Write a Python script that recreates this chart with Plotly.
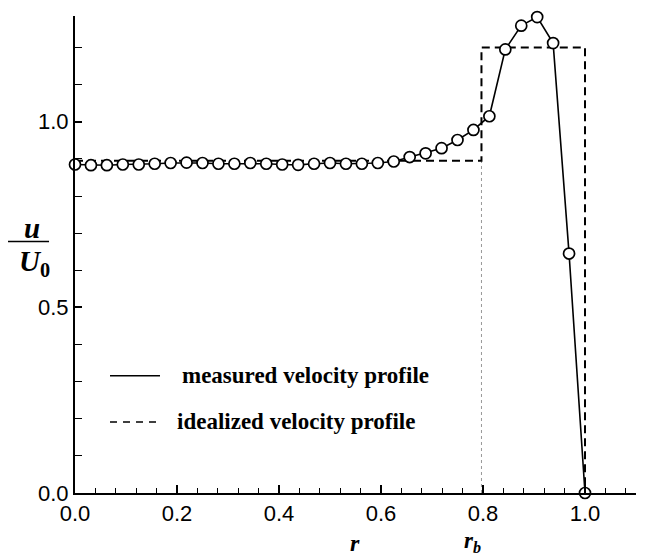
import plotly.graph_objects as go

# measured velocity profile u/U0 vs r (r = i/32)
r_meas = [i / 32 for i in range(33)]
u_meas = [0.885, 0.883, 0.883, 0.885, 0.885, 0.887, 0.889, 0.890, 0.889, 0.887,
          0.887, 0.889, 0.887, 0.885, 0.884, 0.887, 0.889, 0.887, 0.887, 0.889,
          0.893, 0.905, 0.915, 0.929, 0.951, 0.978, 1.015, 1.195, 1.259, 1.282,
          1.212, 0.645, 0.0]

# idealized (step) profile
r_b = 0.797
r_ideal = [0.0, r_b, r_b, 1.0, 1.0]
u_ideal = [0.895, 0.895, 1.2, 1.2, 0.0]

# r_b marker line
r_dot = [r_b, r_b]
u_dot = [0.0, 0.895]

x_ticks = [0.0, 0.2, 0.4, 0.6, 0.8, 1.0]
y_ticks = [0.0, 0.5, 1.0]

fig = go.Figure()
fig.add_trace(go.Scatter(x=r_dot, y=u_dot, mode="lines",
                         line=dict(color="#999999", width=1, dash="dot"),
                         showlegend=False, hoverinfo="skip"))
fig.add_trace(go.Scatter(x=r_ideal, y=u_ideal, mode="lines",
                         line=dict(color="black", width=2, dash="8px,5px"),
                         showlegend=False, cliponaxis=False))
fig.add_trace(go.Scatter(x=r_meas, y=u_meas, mode="lines+markers",
                         line=dict(color="black", width=1.6),
                         marker=dict(symbol="circle", size=11, color="white",
                                     line=dict(color="black", width=1.7)),
                         showlegend=False, cliponaxis=False))

tickfont = dict(family="Liberation Sans, Arial", size=22, color="black")
fig.update_xaxes(range=[0, 1.1], tickvals=x_ticks,
                 ticktext=[f"{v:.1f}" for v in x_ticks],
                 showgrid=False, zeroline=False, showline=True,
                 linecolor="black", linewidth=2,
                 ticks="inside", ticklen=8, tickwidth=1.5, tickcolor="black",
                 minor=dict(dtick=0.04, ticks="inside", ticklen=5, tickwidth=1.2,
                            tickcolor="black", showgrid=False),
                 tickfont=tickfont)
fig.update_yaxes(range=[0, 1.285], tickvals=y_ticks,
                 ticktext=[f"{v:.1f}" for v in y_ticks],
                 showgrid=False, zeroline=False, showline=True,
                 linecolor="black", linewidth=2,
                 ticks="inside", ticklen=7, tickwidth=1.5, tickcolor="black",
                 minor=dict(dtick=0.1, ticks="inside", ticklen=7, tickwidth=1.2,
                            tickcolor="black", showgrid=False),
                 tickfont=tickfont)

serif = "Liberation Serif, Times New Roman"
annotations = [
    dict(x=-0.095, y=0.556, xref="paper", yref="paper", text="<b><i>u</i></b>",
         showarrow=False, yanchor="middle",
         font=dict(family=serif, size=29, color="black")),
    dict(x=-0.104, y=0.482, xref="paper", yref="paper",
         text="<b><i>U</i></b><b><sub>0</sub></b>", yanchor="middle",
         showarrow=False, font=dict(family=serif, size=29, color="black")),
    dict(x=0.499, y=-0.105, xref="paper", yref="paper", text="<b><i>r</i></b>",
         showarrow=False, yanchor="middle",
         font=dict(family=serif, size=24, color="black")),
    dict(x=0.727, y=-0.103, xref="paper", yref="paper",
         text="<b><i>r</i></b><b><i><sub>b</sub></i></b>", yanchor="middle",
         showarrow=False, font=dict(family=serif, size=23, color="black")),
    dict(x=0.187, y=0.246, xref="paper", yref="paper", xanchor="left",
         yanchor="middle", text="<b>measured velocity profile</b>",
         showarrow=False, font=dict(family=serif, size=23, color="black")),
    dict(x=0.178, y=0.149, xref="paper", yref="paper", xanchor="left",
         yanchor="middle", text="<b>idealized velocity profile</b>",
         showarrow=False, font=dict(family=serif, size=23, color="black")),
]
shapes = [
    dict(type="line", xref="paper", yref="paper", x0=-0.1194, x1=-0.0463,
         y0=0.527, y1=0.527, line=dict(color="black", width=1.5)),
    dict(type="line", xref="paper", yref="paper", x0=0.0624, x1=0.1515,
         y0=0.2458, y1=0.2458, line=dict(color="black", width=1.5)),
    dict(type="line", xref="paper", yref="paper", x0=0.0624, x1=0.1515,
         y0=0.149, y1=0.149, line=dict(color="black", width=1.5, dash="7px,6px")),
]

fig.update_layout(width=650, height=556,
                  margin=dict(l=75, r=14, t=16, b=63),
                  paper_bgcolor="white", plot_bgcolor="white",
                  annotations=annotations, shapes=shapes, showlegend=False)

fig.write_html("out.html")
